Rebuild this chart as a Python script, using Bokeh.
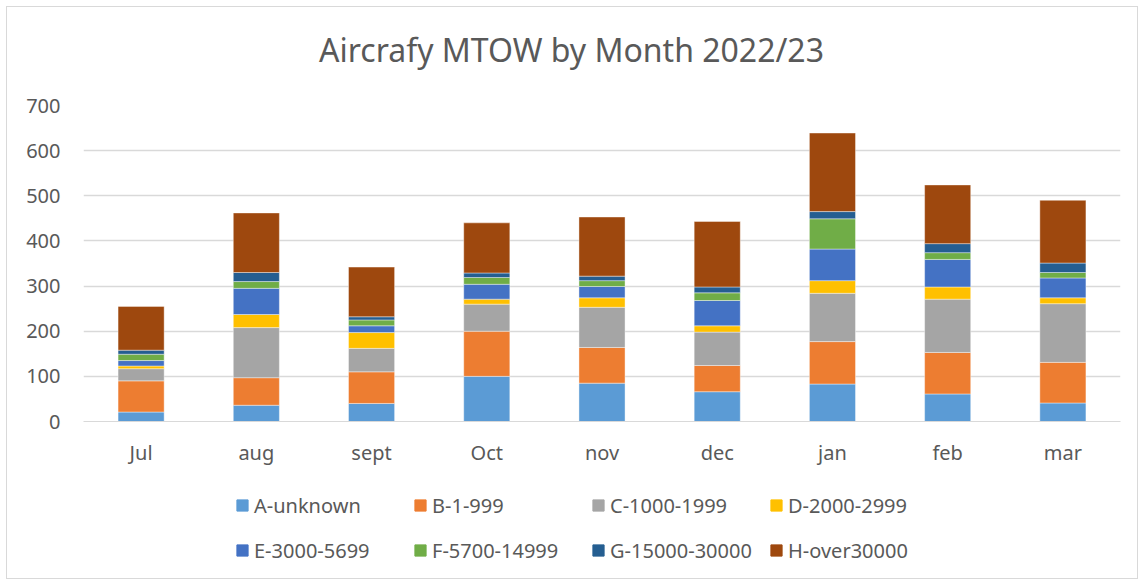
from bokeh.plotting import figure
from bokeh.layouts import column
from bokeh.models import (ColumnDataSource, Legend, LegendItem, FixedTicker,
                          Label, Range1d)
from bokeh.embed import file_html
from bokeh.resources import INLINE

months = ["Jul", "aug", "sept", "Oct", "nov", "dec", "jan", "feb", "mar"]
series = ["A-unknown", "B-1-999", "C-1000-1999", "D-2000-2999",
          "E-3000-5699", "F-5700-14999", "G-15000-30000", "H-over30000"]
a_unknown = [21, 36, 40, 100, 85, 66, 83, 61, 41]
b_1_999 = [69, 61, 70, 100, 79, 58, 94, 92, 90]
c_1000_1999 = [27, 111, 52, 60, 89, 74, 107, 118, 130]
d_2000_2999 = [6, 29, 35, 11, 21, 14, 28, 27, 13]
e_3000_5699 = [12, 58, 15, 33, 25, 56, 70, 61, 44]
f_5700_14999 = [14, 15, 13, 15, 13, 17, 67, 15, 12]
g_15000_30000 = [9, 20, 7, 10, 10, 13, 16, 20, 21]
h_over30000 = [97, 132, 110, 111, 131, 145, 174, 130, 139]
colors = ["#5B9BD5", "#ED7D31", "#A5A5A5", "#FFC000",
          "#4472C4", "#70AD47", "#255E91", "#9E480E"]
title_text = "Aircrafy MTOW by Month 2022/23"

data = {"month": months}
for name, vals in zip(series, [a_unknown, b_1_999, c_1000_1999, d_2000_2999,
                               e_3000_5699, f_5700_14999, g_15000_30000, h_over30000]):
    data[name] = vals
source = ColumnDataSource(data)

FONT = "Noto Sans"
TXT = "#595959"


def strip(height):
    f = figure(width=1130, height=height, x_axis_type=None, y_axis_type=None,
               x_range=Range1d(10, 20), y_range=Range1d(10, 20),
               output_backend="svg", toolbar_location=None, title=None,
               min_border_left=76, min_border_right=17,
               min_border_top=0, min_border_bottom=0)
    f.outline_line_color = None
    return f


# title strip
tt = strip(83)
tt.add_layout(Label(x=488, y=41, x_units="screen", y_units="screen", text=title_text,
                    text_align="center", text_baseline="middle",
                    text_font=FONT, text_font_size="32px", text_color=TXT))

# main chart
p = figure(x_range=months, y_range=(0, 700), width=1130, height=387,
           output_backend="svg", toolbar_location=None, title=None,
           min_border_left=76, min_border_right=17, min_border_top=15,
           min_border_bottom=56)

renderers = p.vbar_stack(series, x="month", width=0.4, source=source,
                         color=colors, line_color="white", line_alpha=0.4, line_width=1)

p.outline_line_color = None
p.xgrid.grid_line_color = None
p.ygrid.grid_line_color = "#D9D9D9"
p.ygrid.grid_line_width = 1.3
p.yaxis.ticker = FixedTicker(ticks=[0, 100, 200, 300, 400, 500, 600, 700])
for ax in (p.xaxis[0], p.yaxis[0]):
    ax.major_tick_line_color = None
    ax.minor_tick_line_color = None
    ax.major_label_text_font = FONT
    ax.major_label_text_font_size = "20px"
    ax.major_label_text_color = TXT
p.yaxis.axis_line_color = None
p.yaxis.major_label_standoff = 17
p.xaxis.axis_line_color = "#D9D9D9"
p.xaxis.major_label_standoff = 11
p.x_range.range_padding = 0.0

# legend strip below the chart (swatches sit outside the strip's visible range)
lg = strip(101)
swatches = [lg.vbar(x=[0], top=[1], bottom=[0], width=0.5, color=c) for c in colors]
legend = Legend(items=[LegendItem(label=s, renderers=[r]) for s, r in zip(series, swatches)],
                orientation="horizontal", ncols=4, location=(152, 13),
                label_text_font=FONT, label_text_font_size="20px", label_text_color=TXT,
                glyph_width=14, glyph_height=14, spacing=15, label_standoff=5,
                label_width=144, label_height=30,
                padding=0, margin=0, border_line_color=None, background_fill_alpha=0)
lg.add_layout(legend, "center")

layout = column(tt, p, lg, spacing=0,
                styles={"border": "1px solid #D9D9D9", "margin-left": "6px", "margin-top": "6px"})

open("out.html", "w").write(file_html(layout, INLINE))
